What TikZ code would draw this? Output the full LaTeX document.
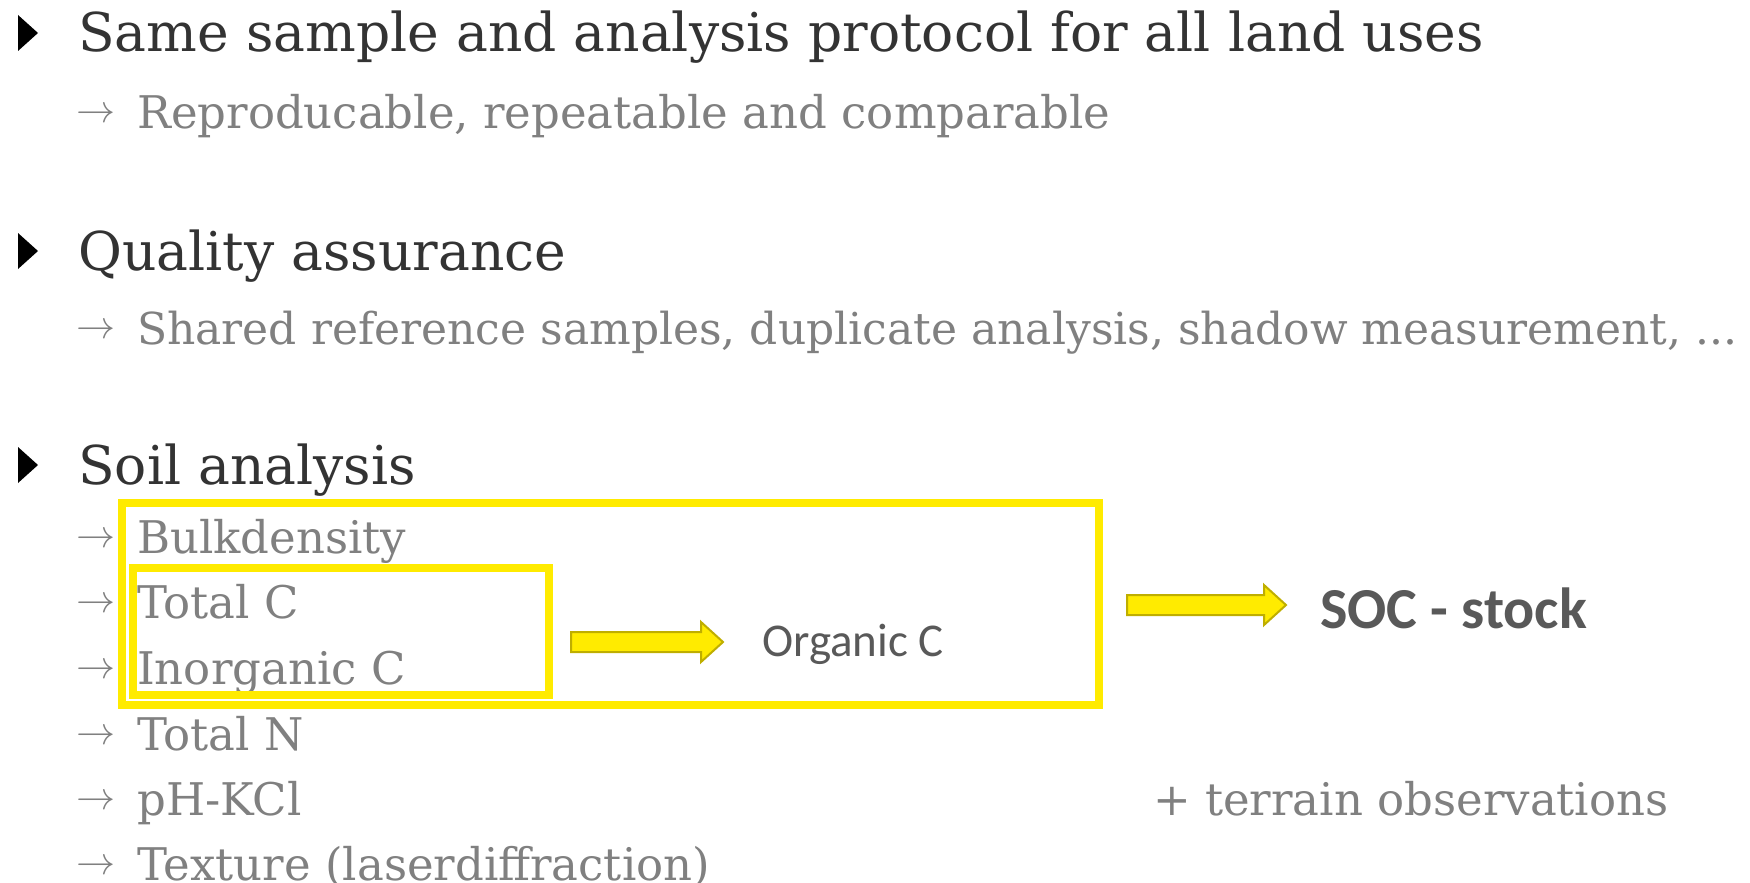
\documentclass[tikz,border=0pt]{standalone}
\usepackage{fontspec}
\setmainfont{DejaVu Serif}
\newfontfamily\calib{Carlito}
\usepackage{xcolor}
\usetikzlibrary{positioning}

\definecolor{ugyellow}{HTML}{FFEB00}
\definecolor{arrline}{HTML}{BFAE00}
\definecolor{headtext}{HTML}{333333}
\definecolor{subtext}{HTML}{808080}
\definecolor{boxtext}{HTML}{595959}

\newcommand{\subarr}{\makebox[61pt][l]{\raisebox{6pt}{\resizebox{39pt}{!}{$\rightarrow$}}}}

\tikzset{
    head/.style={anchor=base west, inner sep=0pt, text=headtext, font=\fontsize{53.5}{60}\selectfont},
    sub/.style={anchor=base west, inner sep=0pt, text=subtext, font=\fontsize{45}{50}\selectfont},
    calibtext/.style={anchor=base west, inner sep=0pt, text=boxtext},
    ybox/.style={draw=ugyellow, line width=8pt},
    blockarr/.style={fill=ugyellow, draw=arrline, line width=2pt, line join=miter}
}

\begin{document}
\begin{tikzpicture}[x=1pt, y=-1pt]
    \useasboundingbox (0,0) rectangle (1750,883);

    \node[head] (same) at (78, 52) {Same sample and analysis protocol for all land uses};
    \node[sub] (repro) at (76, 128) {\subarr Reproducable, repeatable and comparable};
    \node[head] (qual) at (78, 270) {Quality assurance};
    \node[sub, font=\fontsize{44}{50}\selectfont] (shared) at (76, 344) {\subarr Shared reference samples, duplicate analysis, shadow measurement, ...};
    \node[head] (soil) at (78, 484) {Soil analysis};
    \node[sub] (bulk) at (76, 553) {\subarr Bulkdensity};
    \node[sub] (totc) at (76, 618) {\subarr Total C};
    \node[sub] (inorgc) at (76, 684) {\subarr Inorganic C};
    \node[sub] (totn) at (76, 750) {\subarr Total N};
    \node[sub] (phkcl) at (76, 815) {\subarr pH-KCl};
    \node[sub] (texture) at (76, 880) {\subarr Texture (laserdiffraction)};
    \node[sub] (terrain) at (1153, 815) {+ terrain observations};
    \node[calibtext, font=\calib\fontsize{47}{50}\selectfont] (orgc) at (762, 656) {Organic C};
    \node[calibtext, font=\calib\bfseries\fontsize{58}{60}\selectfont] (soc) at (1320, 628) {SOC - stock};

    % bullets
    \foreach \b in {52, 270, 484}
        \fill[black] (18, \b-37) -- (38, \b-19) -- (18, \b-1) -- cycle;

    % boxes
    \draw[ybox] (122, 503) rectangle (1099, 705);
    \draw[ybox] (133, 568) rectangle (549, 695);

    % block arrows
    \draw[blockarr] (571, 632) -- (701, 632) -- (701, 622) -- (723, 642) -- (701, 662) -- (701, 652) -- (571, 652) -- cycle;
    \draw[blockarr] (1127, 595) -- (1264, 595) -- (1264, 585) -- (1286, 605) -- (1264, 625) -- (1264, 615) -- (1127, 615) -- cycle;
\end{tikzpicture}
\end{document}
